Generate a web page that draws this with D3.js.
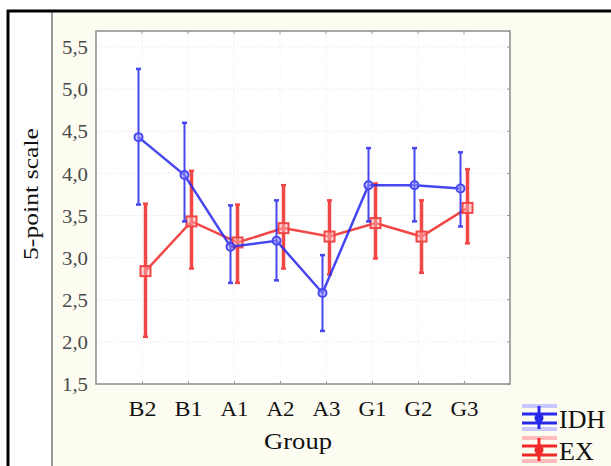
<!DOCTYPE html>
<html><head><meta charset="utf-8">
<script src="https://cdn.jsdelivr.net/npm/d3@7/dist/d3.min.js"></script>
<style>body{margin:0;background:#fff}svg{display:block}text{font-family:"Liberation Serif","DejaVu Serif",serif}</style>
</head><body><svg id="c" width="611" height="466"></svg>
<script>
const groups = ["B2","B1","A1","A2","A3","G1","G2","G3"];
const idhMean = [4.43,3.98,3.13,3.20,2.58,3.86,3.86,3.82];
const idhLow  = [3.63,3.43,2.70,2.73,2.13,3.43,3.43,3.37];
const idhHigh = [5.24,4.60,3.62,3.68,3.03,4.30,4.30,4.25];
const exMean  = [2.84,3.43,3.18,3.35,3.25,3.41,3.25,3.59];
const exLow   = [2.06,2.87,2.70,2.87,2.80,2.99,2.82,3.17];
const exHigh  = [3.64,4.03,3.63,3.86,3.68,3.88,3.68,4.05];
const yTicks = [1.5,2.0,2.5,3.0,3.5,4.0,4.5,5.0,5.5];
const seriesNames = ["IDH","EX"];
const FONT = "'Liberation Serif','DejaVu Serif',serif";

const svg = d3.select("#c");
svg.append("rect").attr("x",52).attr("y",11).attr("width",559).attr("height",455).attr("fill","#fdfcf1");
svg.append("line").attr("x1",52).attr("x2",52).attr("y1",11).attr("y2",466).attr("stroke","#9a9a9a").attr("stroke-width",2);
svg.append("line").attr("x1",7).attr("x2",611).attr("y1",11).attr("y2",11).attr("stroke","#000").attr("stroke-width",3);
svg.append("line").attr("x1",8).attr("x2",8).attr("y1",10).attr("y2",466).attr("stroke","#000").attr("stroke-width",3);

const L=96,R=510,T=31,B=384;
const x = d3.scalePoint().domain(groups).range([L,R]).padding(1);
const y = d3.scaleLinear().domain([1.5,5.69]).range([B,T]);

svg.append("rect").attr("x",L).attr("y",T).attr("width",R-L).attr("height",B-T).attr("fill","#fff");
const g = svg.append("g");
g.selectAll(".gy").data(yTicks.slice(1)).join("line")
 .attr("x1",L).attr("x2",R).attr("y1",d=>y(d)).attr("y2",d=>y(d))
 .attr("stroke","#e4e4e4").attr("stroke-dasharray","1,2");
g.selectAll(".gx").data(groups).join("line")
 .attr("x1",d=>x(d)).attr("x2",d=>x(d)).attr("y1",T).attr("y2",B)
 .attr("stroke","#e8e8e8").attr("stroke-dasharray","1,2");
// inner frame ticks (top and right)
g.selectAll(".tt").data(groups).join("line")
 .attr("x1",d=>x(d)).attr("x2",d=>x(d)).attr("y1",T).attr("y2",T+3).attr("stroke","#999");
g.selectAll(".tr").data(yTicks).join("line")
 .attr("x1",R-3).attr("x2",R).attr("y1",d=>y(d)).attr("y2",d=>y(d)).attr("stroke","#999");

svg.append("rect").attr("x",L).attr("y",T).attr("width",R-L).attr("height",B-T).attr("fill","none").attr("stroke","#8c8c8c").attr("stroke-width",1.5);

const ya = svg.append("g").attr("transform",`translate(${L},0)`)
 .call(d3.axisLeft(y).tickValues(yTicks).tickSize(0).tickPadding(8).tickFormat(d=>d3.format(".1f")(d).replace(".",",")));
ya.select(".domain").remove();
ya.selectAll("text").attr("font-size",19).attr("fill","#4a4a4a").attr("font-family",FONT).attr("dy","0.35em")
  .attr("textLength",26).attr("lengthAdjust","spacingAndGlyphs");
const xa = svg.append("g").attr("transform",`translate(0,${B})`)
 .call(d3.axisBottom(x).tickSize(3).tickPadding(13));
xa.select(".domain").remove();
xa.selectAll("line").attr("stroke","#999").attr("transform","translate(0,-3)");
xa.selectAll("text").attr("font-size",22).attr("fill","#111").attr("font-family",FONT).attr("dy","0.71em")
  .attr("textLength",28).attr("lengthAdjust","spacingAndGlyphs");

svg.append("text").attr("x",298).attr("y",449).attr("text-anchor","middle").attr("font-size",23).attr("fill","#111").attr("font-family",FONT)
  .attr("textLength",68).attr("lengthAdjust","spacingAndGlyphs").text("Group");
svg.append("text").attr("transform","translate(38,194) rotate(-90)").attr("text-anchor","middle").attr("font-size",20).attr("fill","#111").attr("font-family",FONT)
  .attr("textLength",132).attr("lengthAdjust","spacingAndGlyphs").text("5-point scale");

const series = [
 {name:seriesNames[0], mean:idhMean, low:idhLow, high:idhHigh, color:"#2828ee", off:-3.5, bw:2, shape:"circle"},
 {name:seriesNames[1], mean:exMean, low:exLow, high:exHigh, color:"#f02828", off:3.5, bw:3.5, shape:"square"}
];
[series[1],series[0]].forEach(s=>{
  const sg = svg.append("g").attr("opacity",0.85);
  groups.forEach((gr,i)=>{
    const cx = x(gr)+s.off;
    sg.append("line").attr("x1",cx).attr("x2",cx).attr("y1",y(s.low[i])).attr("y2",y(s.high[i])).attr("stroke",s.color).attr("stroke-width",s.bw);
    [s.low[i],s.high[i]].forEach(v=>sg.append("line").attr("x1",cx-2.5).attr("x2",cx+2.5).attr("y1",y(v)).attr("y2",y(v)).attr("stroke",s.color).attr("stroke-width",2.5));
  });
  const line = d3.line().x((d,i)=>x(groups[i])+s.off).y(d=>y(d));
  sg.append("path").datum(s.mean).attr("d",line).attr("fill","none").attr("stroke",s.color).attr("stroke-width",2.5);
  groups.forEach((gr,i)=>{
    const cx = x(gr)+s.off, cy=y(s.mean[i]);
    if(s.shape==="circle") sg.append("circle").attr("cx",cx).attr("cy",cy).attr("r",4).attr("fill","#8888ff").attr("fill-opacity",0.5).attr("stroke",s.color).attr("stroke-width",2);
    else sg.append("rect").attr("x",cx-5).attr("y",cy-5).attr("width",10).attr("height",10).attr("fill","#ffaaaa").attr("fill-opacity",0.5).attr("stroke",s.color).attr("stroke-width",2);
  });
});

series.forEach((s,i)=>{
  const top = 404 + i*32, lg = svg.append("g");
  const x0=522,x1=557,xm=539;
  const light = i===0?"#c8c8ff":"#ffbcbc";
  lg.append("rect").attr("x",x0).attr("y",top).attr("width",x1-x0).attr("height",4).attr("fill",light);
  lg.append("rect").attr("x",x0).attr("y",top+23).attr("width",x1-x0).attr("height",4).attr("fill",light);
  lg.append("line").attr("x1",xm).attr("x2",xm).attr("y1",top+2).attr("y2",top+25).attr("stroke",s.color).attr("stroke-width",3);
  lg.append("line").attr("x1",x0).attr("x2",x1).attr("y1",top+10).attr("y2",top+10).attr("stroke",s.color).attr("stroke-width",3);
  lg.append("line").attr("x1",x0).attr("x2",x1).attr("y1",top+19).attr("y2",top+19).attr("stroke",s.color).attr("stroke-width",3);
  lg.append("circle").attr("cx",xm).attr("cy",top+14).attr("r",4.5).attr("fill",s.color);
  lg.append("text").attr("x",559).attr("y",top+24).attr("font-size",26).attr("fill","#111").attr("font-family",FONT).text(s.name);
});
</script></body></html>
